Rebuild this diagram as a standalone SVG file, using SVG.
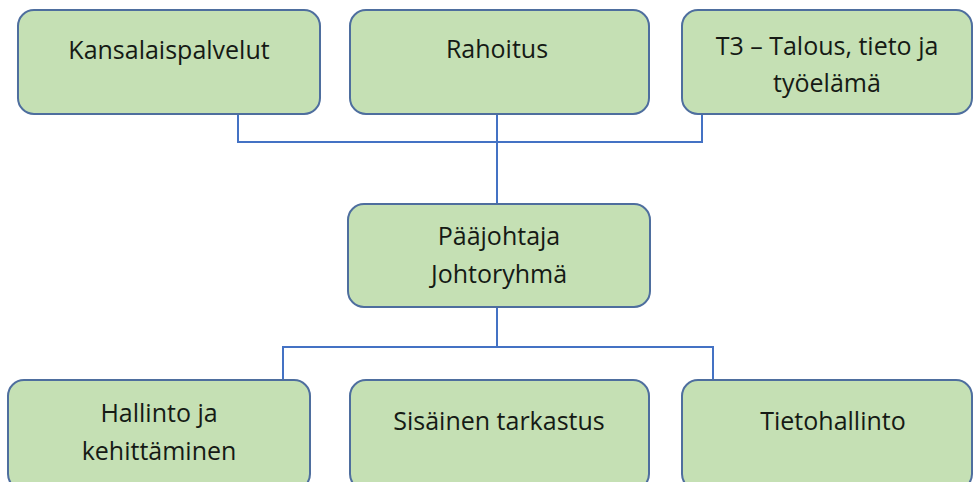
<svg xmlns="http://www.w3.org/2000/svg" width="974" height="482" viewBox="0 0 974 482">
<style>
.box{fill:#C5E0B4;stroke:#4E6E9E;stroke-width:2}
.t{font-family:"Open Sans",Lato,sans-serif;font-size:25px;fill:#151a15;text-anchor:middle}
.c{fill:none;stroke:#4472C4;stroke-width:2}
</style>
<rect width="974" height="482" fill="#ffffff"/>
<g id="connectors">
<polyline class="c" points="238,114 238,142 702,142 702,114"/>
<line class="c" x1="497" y1="114" x2="497" y2="204"/>
<line class="c" x1="497" y1="307" x2="497" y2="347"/>
<polyline class="c" points="283,380 283,347 713,347 713,380"/>
</g>
<g id="kansalaispalvelut"><rect class="box" x="18" y="10" width="302" height="104" rx="16"/><text class="t" x="169" y="59">Kansalaispalvelut</text></g>
<g id="rahoitus"><rect class="box" x="350" y="10" width="299" height="104" rx="16"/><text class="t" x="497" y="58">Rahoitus</text></g>
<g id="t3"><rect class="box" x="682" y="10" width="290" height="104" rx="16"/><text class="t" x="827" y="55">T3 – Talous, tieto ja</text><text class="t" x="827" y="92">työelämä</text></g>
<g id="paajohtaja"><rect class="box" x="348" y="204" width="302" height="103" rx="16"/><text class="t" x="499" y="245">Pääjohtaja</text><text class="t" x="499" y="283">Johtoryhmä</text></g>
<g id="hallinto"><rect class="box" x="8" y="380" width="302" height="110" rx="16"/><text class="t" x="159" y="422">Hallinto ja</text><text class="t" x="159" y="460">kehittäminen</text></g>
<g id="sisainen"><rect class="box" x="350" y="380" width="299" height="110" rx="16"/><text class="t" x="499" y="430">Sisäinen tarkastus</text></g>
<g id="tietohallinto"><rect class="box" x="682" y="380" width="290" height="110" rx="16"/><text class="t" x="833" y="430">Tietohallinto</text></g>
</svg>
